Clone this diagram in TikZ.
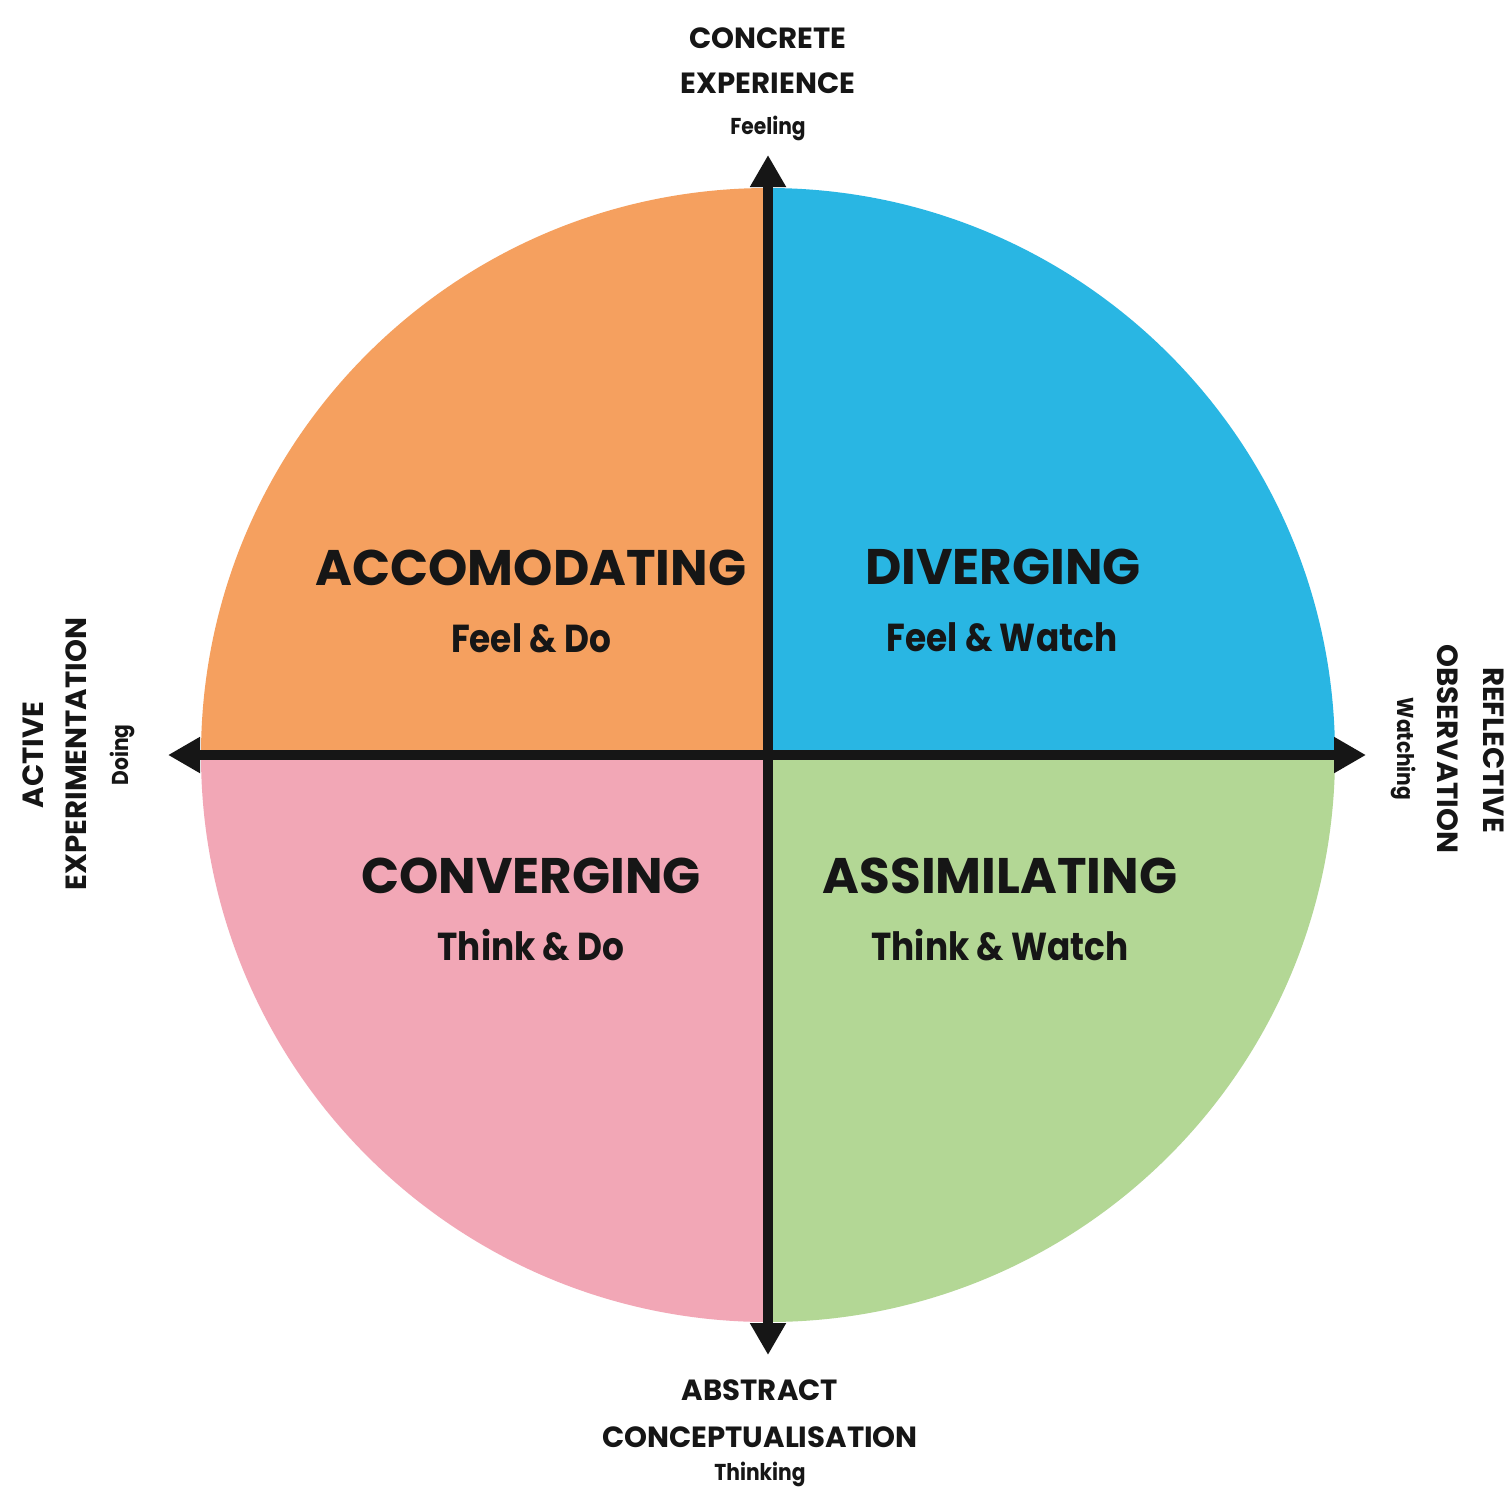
\documentclass[tikz,border=0pt]{standalone}
\usepackage{fontspec}
\setmainfont{Poppins}
\newfontfamily\subfont[FakeStretch=0.88]{Poppins}
\usetikzlibrary{arrows.meta}
\definecolor{accO}{HTML}{F5A05F}
\definecolor{divB}{HTML}{29B6E3}
\definecolor{conP}{HTML}{F2A7B6}
\definecolor{assG}{HTML}{B3D795}
\definecolor{ink}{HTML}{161616}
\tikzset{
  big/.style={anchor=base, inner sep=0pt, text=ink, font=\bfseries\fontsize{25}{25}\selectfont},
  sub/.style={anchor=base, inner sep=0pt, text=ink, font=\subfont\bfseries\fontsize{19.5}{19.5}\selectfont},
  axlab/.style={anchor=base, inner sep=0pt, text=ink, font=\bfseries\fontsize{14.6}{14.6}\selectfont},
  axsub/.style={anchor=base, inner sep=0pt, text=ink, font=\subfont\bfseries\fontsize{11.5}{11.5}\selectfont},
  axis/.style={line width=5pt, draw=ink, {Triangle[width=17pt,length=16pt]}-{Triangle[width=17pt,length=16pt]}}
}
\begin{document}
\begin{tikzpicture}[x=0.5pt,y=-0.5pt]
\useasboundingbox (0,0) rectangle (1507,1489);
\fill[white] (0,0) rectangle (1507,1489);
\coordinate (c) at (768,755);
\begin{scope}
  \clip (c) circle[radius=567];
  \fill[accO] (c) rectangle (0,0);
  \fill[divB] (c) rectangle (1507,0);
  \fill[conP] (c) rectangle (0,1489);
  \fill[assG] (c) rectangle (1507,1489);
\end{scope}
\coordinate (top) at (768,155);
\coordinate (bot) at (768,1355);
\coordinate (lft) at (168,755);
\coordinate (rgt) at (1366,755);
\draw[axis] (top) -- (bot);
\draw[axis] (lft) -- (rgt);
% quadrant labels
\node[big] (acc) at (531,585) {ACCOMODATING};
\node[sub] (accs) at (531,652) {Feel \& Do};
\node[big] (div) at (1003,584) {DIVERGING};
\node[sub] (divs) at (1002,651) {Feel \& Watch};
\node[big] (con) at (531,893) {CONVERGING};
\node[sub] (cons) at (531,960) {Think \& Do};
\node[big] (ass) at (1000,893) {ASSIMILATING};
\node[sub] (asss) at (1000,960) {Think \& Watch};
% top
\node[axlab] (ce1) at (768,48) {CONCRETE};
\node[axlab] (ce2) at (768,93) {EXPERIENCE};
\node[axsub] (ce3) at (768,134) {Feeling};
% bottom
\node[axlab] (ac1) at (760,1400) {ABSTRACT};
\node[axlab] (ac2) at (760,1447) {CONCEPTUALISATION};
\node[axsub] (ac3) at (760,1480) {Thinking};
% left
\node[axlab, rotate=90] (ae1) at (43,755) {ACTIVE};
\node[axlab, rotate=90] (ae2) at (86,754) {EXPERIMENTATION};
\node[axsub, rotate=90] (ae3) at (128,755) {Doing};
% right
\node[axlab, rotate=-90] (ro1) at (1483,750) {REFLECTIVE};
\node[axlab, rotate=-90] (ro2) at (1437,749) {OBSERVATION};
\node[axsub, rotate=-90] (ro3) at (1397,749) {Watching};
\end{tikzpicture}
\end{document}
